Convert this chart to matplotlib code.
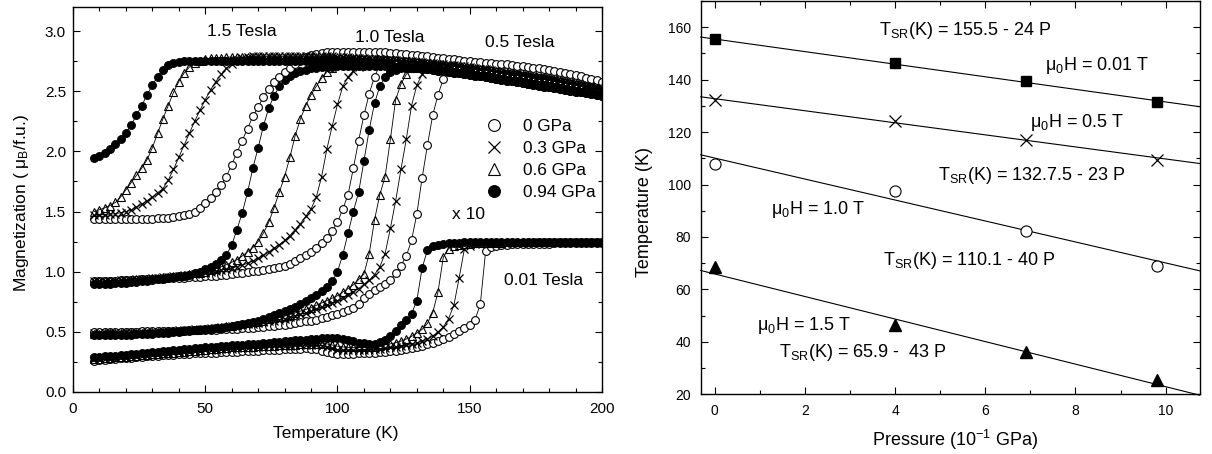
import numpy as np
import matplotlib
matplotlib.use("Agg")
import matplotlib.pyplot as plt
from matplotlib.lines import Line2D
from matplotlib.ticker import MultipleLocator

plt.rcParams['font.family'] = ['Liberation Sans', 'DejaVu Sans']
plt.rcParams['mathtext.fontset'] = 'custom'
plt.rcParams['mathtext.rm'] = 'Liberation Sans'
plt.rcParams['mathtext.it'] = 'Liberation Sans:italic'
plt.rcParams['mathtext.bf'] = 'Liberation Sans:bold'

# ---- left panel: M(T) at four fields and four pressures ----
temps = [8, 10, 12, 14, 16, 18, 20, 22, 24, 26,
         28, 30, 32, 34, 36, 38, 40, 42, 44, 46,
         48, 50, 52, 54, 56, 58, 60, 62, 64, 66,
         68, 70, 72, 74, 76, 78, 80, 82, 84, 86,
         88, 90, 92, 94, 96, 98, 100, 102, 104, 106,
         108, 110, 112, 114, 116, 118, 120, 122, 124, 126,
         128, 130, 132, 134, 136, 138, 140, 142, 144, 146,
         148, 150, 152, 154, 156, 158, 160, 162, 164, 166,
         168, 170, 172, 174, 176, 178, 180, 182, 184, 186,
         188, 190, 192, 194, 196, 198, 200]

pressures_leg = ["0 GPa", "0.3 GPa", "0.6 GPa", "0.94 GPa"]

# common high-temperature tails (122 K .. 200 K)
band_mid = [2.758, 2.755, 2.752, 2.748, 2.745, 2.741, 2.738, 2.734, 2.73, 2.726,
            2.721, 2.716, 2.711, 2.706, 2.70, 2.694, 2.688, 2.681, 2.674, 2.667,
            2.66, 2.652, 2.645, 2.639, 2.633, 2.626, 2.619, 2.612, 2.606, 2.60,
            2.592, 2.584, 2.576, 2.568, 2.56, 2.552, 2.544, 2.536, 2.528, 2.52]
band_fill = [2.703, 2.70, 2.697, 2.694, 2.69, 2.686, 2.681, 2.676, 2.671, 2.666,
             2.66, 2.655, 2.649, 2.643, 2.637, 2.63, 2.623, 2.616, 2.609, 2.602,
             2.595, 2.588, 2.581, 2.574, 2.567, 2.56, 2.553, 2.546, 2.539, 2.532,
             2.525, 2.518, 2.511, 2.504, 2.497, 2.49, 2.483, 2.476, 2.469, 2.462]

# 0.01 Tesla (x 10)
m001_0 = [0.26, 0.264, 0.268, 0.272, 0.276, 0.28, 0.283, 0.286, 0.289, 0.292,
          0.295, 0.298, 0.301, 0.304, 0.307, 0.31, 0.313, 0.316, 0.318, 0.32,
          0.322, 0.324, 0.326, 0.328, 0.33, 0.332, 0.334, 0.336, 0.338, 0.34,
          0.342, 0.344, 0.346, 0.348, 0.35, 0.352, 0.354, 0.356, 0.358, 0.36,
          0.362, 0.36, 0.355, 0.343, 0.33, 0.32, 0.317, 0.317, 0.318, 0.319,
          0.32, 0.322, 0.324, 0.327, 0.33, 0.334, 0.339, 0.344, 0.35, 0.357,
          0.365, 0.374, 0.384, 0.395, 0.408, 0.423, 0.44, 0.46, 0.48, 0.503,
          0.528, 0.555, 0.60, 0.73, 1.17, 1.205, 1.215, 1.222, 1.225, 1.227,
          1.228, 1.23, 1.23, 1.231, 1.232, 1.233, 1.234, 1.235, 1.236, 1.237,
          1.237, 1.238, 1.238, 1.239, 1.239, 1.24, 1.24]
m001_3 = [0.27, 0.273, 0.277, 0.28, 0.283, 0.287, 0.29, 0.294, 0.298, 0.302,
          0.306, 0.31, 0.314, 0.318, 0.322, 0.326, 0.33, 0.333, 0.336, 0.339,
          0.342, 0.345, 0.348, 0.351, 0.354, 0.357, 0.36, 0.363, 0.366, 0.369,
          0.372, 0.375, 0.377, 0.379, 0.381, 0.383, 0.385, 0.386, 0.387, 0.388,
          0.389, 0.39, 0.388, 0.385, 0.378, 0.365, 0.352, 0.348, 0.347, 0.347,
          0.348, 0.35, 0.353, 0.357, 0.361, 0.365, 0.37, 0.376, 0.383, 0.39,
          0.40, 0.41, 0.424, 0.44, 0.465, 0.50, 0.54, 0.61, 0.72, 0.95,
          1.19, 1.215, 1.23, 1.235, 1.237, 1.239, 1.24, 1.24, 1.241, 1.241,
          1.242, 1.242, 1.242, 1.243, 1.243, 1.243, 1.244, 1.244, 1.244, 1.244,
          1.245, 1.245, 1.245, 1.245, 1.245, 1.245, 1.245]
m001_6 = [0.275, 0.278, 0.281, 0.284, 0.287, 0.29, 0.293, 0.297, 0.30, 0.304,
          0.308, 0.312, 0.316, 0.32, 0.324, 0.328, 0.332, 0.336, 0.34, 0.344,
          0.348, 0.352, 0.355, 0.358, 0.362, 0.366, 0.37, 0.372, 0.374, 0.376,
          0.378, 0.38, 0.382, 0.384, 0.386, 0.388, 0.39, 0.392, 0.394, 0.396,
          0.398, 0.40, 0.401, 0.401, 0.40, 0.39, 0.38, 0.374, 0.371, 0.37,
          0.37, 0.37, 0.373, 0.378, 0.384, 0.391, 0.40, 0.41, 0.423, 0.44,
          0.462, 0.49, 0.52, 0.57, 0.66, 0.83, 1.12, 1.19, 1.215, 1.225,
          1.23, 1.233, 1.236, 1.238, 1.24, 1.241, 1.242, 1.242, 1.243, 1.243,
          1.243, 1.244, 1.244, 1.244, 1.244, 1.245, 1.245, 1.245, 1.245, 1.245,
          1.245, 1.245, 1.245, 1.245, 1.245, 1.245, 1.245]
m001_94 = [0.29, 0.293, 0.297, 0.30, 0.303, 0.307, 0.31, 0.314, 0.318, 0.322,
           0.326, 0.33, 0.334, 0.338, 0.342, 0.346, 0.35, 0.354, 0.358, 0.362,
           0.366, 0.37, 0.374, 0.378, 0.382, 0.386, 0.39, 0.392, 0.394, 0.396,
           0.398, 0.40, 0.404, 0.408, 0.412, 0.416, 0.42, 0.424, 0.428, 0.432,
           0.436, 0.44, 0.443, 0.446, 0.448, 0.45, 0.449, 0.444, 0.435, 0.422,
           0.41, 0.404, 0.40, 0.402, 0.412, 0.43, 0.465, 0.51, 0.555, 0.60,
           0.65, 0.76, 1.03, 1.18, 1.21, 1.225, 1.232, 1.236, 1.239, 1.241,
           1.243, 1.245, 1.245, 1.245, 1.245, 1.245, 1.245, 1.245, 1.245, 1.245,
           1.245, 1.245, 1.245, 1.245, 1.245, 1.245, 1.245, 1.245, 1.245, 1.245,
           1.245, 1.245, 1.245, 1.245, 1.245, 1.245, 1.245]

# 0.5 Tesla
m05_0 = [0.50, 0.50, 0.50, 0.50, 0.50, 0.50, 0.50, 0.501, 0.502, 0.503,
         0.504, 0.505, 0.506, 0.507, 0.508, 0.509, 0.51, 0.511, 0.512, 0.513,
         0.514, 0.515, 0.517, 0.519, 0.521, 0.523, 0.525, 0.527, 0.53, 0.532,
         0.535, 0.539, 0.543, 0.547, 0.551, 0.555, 0.56, 0.566, 0.572, 0.579,
         0.586, 0.593, 0.60, 0.612, 0.624, 0.637, 0.65, 0.665, 0.681, 0.70,
         0.735, 0.78, 0.815, 0.845, 0.87, 0.90, 0.93, 0.985, 1.05, 1.13,
         1.26, 1.48, 1.78, 2.05, 2.30, 2.47, 2.60, 2.67, 2.695, 2.71,
         2.715, 2.72, 2.718, 2.716, 2.713, 2.71, 2.705, 2.70, 2.695, 2.69,
         2.685, 2.68, 2.675, 2.67, 2.665, 2.66, 2.65, 2.64, 2.63, 2.62,
         2.61, 2.60, 2.59, 2.58, 2.57, 2.565, 2.56]
m05_3 = [0.49, 0.49, 0.491, 0.492, 0.493, 0.494, 0.495, 0.496, 0.497, 0.498,
         0.499, 0.50, 0.502, 0.504, 0.507, 0.51, 0.512, 0.515, 0.517, 0.52,
         0.522, 0.525, 0.529, 0.533, 0.538, 0.543, 0.548, 0.552, 0.557, 0.562,
         0.566, 0.57, 0.578, 0.586, 0.594, 0.602, 0.61, 0.622, 0.634, 0.646,
         0.658, 0.67, 0.688, 0.706, 0.724, 0.742, 0.76, 0.785, 0.81, 0.835,
         0.86, 0.895, 0.93, 0.975, 1.04, 1.15, 1.36, 1.59, 1.85, 2.10,
         2.38, 2.55, 2.64, 2.685, 2.705, 2.715, 2.72, 2.718, 2.715, 2.71,
         2.705, 2.70, 2.694, 2.688, 2.681, 2.674, 2.667, 2.66, 2.652, 2.645,
         2.639, 2.633, 2.626, 2.619, 2.612, 2.606, 2.60, 2.592, 2.584, 2.576,
         2.568, 2.56, 2.552, 2.544, 2.536, 2.528, 2.52]
m05_6 = [0.485, 0.486, 0.487, 0.488, 0.489, 0.49, 0.49, 0.491, 0.492, 0.493,
         0.494, 0.495, 0.497, 0.50, 0.503, 0.506, 0.509, 0.512, 0.515, 0.518,
         0.521, 0.525, 0.53, 0.535, 0.54, 0.546, 0.552, 0.558, 0.565, 0.572,
         0.578, 0.585, 0.594, 0.603, 0.612, 0.621, 0.63, 0.644, 0.658, 0.672,
         0.686, 0.70, 0.72, 0.74, 0.76, 0.78, 0.80, 0.83, 0.86, 0.89,
         0.935, 0.98, 1.15, 1.43, 1.64, 1.79, 2.10, 2.43, 2.56, 2.64,
         2.69, 2.71, 2.718, 2.722, 2.725, 2.724, 2.723, 2.721, 2.719, 2.716,
         2.713, 2.71, 2.703, 2.696, 2.689, 2.682, 2.676, 2.669, 2.662, 2.655,
         2.649, 2.642, 2.636, 2.629, 2.622, 2.616, 2.61, 2.602, 2.594, 2.586,
         2.578, 2.57, 2.562, 2.554, 2.546, 2.538, 2.53]
m05_94 = [0.47, 0.47, 0.471, 0.472, 0.473, 0.474, 0.475, 0.477, 0.479, 0.481,
          0.483, 0.485, 0.488, 0.491, 0.494, 0.497, 0.50, 0.504, 0.508, 0.512,
          0.516, 0.52, 0.525, 0.53, 0.535, 0.54, 0.545, 0.553, 0.562, 0.571,
          0.58, 0.594, 0.609, 0.624, 0.639, 0.654, 0.67, 0.69, 0.71, 0.73,
          0.755, 0.78, 0.81, 0.84, 0.87, 0.92, 1.0, 1.14, 1.32, 1.50,
          1.66, 1.92, 2.18, 2.40, 2.54, 2.62, 2.66, 2.68, 2.69, 2.692,
          2.692, 2.691, 2.69, 2.686, 2.681, 2.675, 2.669, 2.663, 2.657, 2.651,
          2.645, 2.64, 2.633, 2.626, 2.619, 2.612, 2.605, 2.598, 2.591, 2.585,
          2.578, 2.571, 2.564, 2.557, 2.55, 2.543, 2.536, 2.53, 2.523, 2.517,
          2.51, 2.503, 2.497, 2.49, 2.483, 2.477, 2.47]

# 1.0 Tesla
m10_0 = [0.92, 0.921, 0.922, 0.924, 0.925, 0.927, 0.929, 0.931, 0.933, 0.935,
         0.937, 0.939, 0.941, 0.943, 0.945, 0.947, 0.949, 0.951, 0.953, 0.956,
         0.959, 0.962, 0.965, 0.968, 0.972, 0.976, 0.98, 0.985, 0.99, 0.996,
         1.002, 1.009, 1.016, 1.024, 1.032, 1.041, 1.05, 1.065, 1.085, 1.11,
         1.135, 1.165, 1.20, 1.24, 1.28, 1.34, 1.41, 1.52, 1.64, 1.86,
         2.09, 2.30, 2.48, 2.62, 2.72, 2.755, 2.765, 2.77, 2.77, 2.769,
         2.768, 2.767, 2.765, 2.762, 2.758, 2.754, 2.75, 2.745, 2.74, 2.735,
         2.73, 2.726, 2.722, 2.718, 2.714, 2.71, 2.706, 2.702, 2.698, 2.694,
         2.69, 2.686, 2.682, 2.678, 2.673, 2.668, 2.662, 2.655, 2.647, 2.638,
         2.629, 2.62, 2.61, 2.60, 2.59, 2.58, 2.57]
m10_3 = [0.92, 0.921, 0.922, 0.924, 0.926, 0.928, 0.93, 0.933, 0.936, 0.939,
         0.942, 0.945, 0.949, 0.953, 0.957, 0.961, 0.965, 0.97, 0.975, 0.98,
         0.985, 0.99, 0.998, 1.006, 1.014, 1.022, 1.03, 1.042, 1.055, 1.07,
         1.09, 1.11, 1.135, 1.165, 1.195, 1.225, 1.26, 1.30, 1.35, 1.40,
         1.46, 1.52, 1.62, 1.79, 2.02, 2.21, 2.39, 2.54, 2.62, 2.67,
         2.70, 2.72, 2.735, 2.745, 2.752, 2.757, 2.76] + band_mid
m10_6 = [0.92, 0.921, 0.922, 0.924, 0.926, 0.928, 0.93, 0.933, 0.936, 0.939,
         0.942, 0.945, 0.949, 0.953, 0.957, 0.961, 0.965, 0.971, 0.978, 0.985,
         0.992, 1.0, 1.012, 1.025, 1.04, 1.058, 1.078, 1.10, 1.13, 1.165,
         1.20, 1.25, 1.32, 1.41, 1.53, 1.66, 1.79, 1.95, 2.13, 2.27,
         2.38, 2.47, 2.54, 2.61, 2.66, 2.695, 2.72, 2.735, 2.745, 2.75,
         2.755, 2.758, 2.76, 2.761, 2.761, 2.76, 2.76] + band_mid
m10_94 = [0.895, 0.897, 0.899, 0.901, 0.904, 0.907, 0.91, 0.914, 0.918, 0.922,
          0.926, 0.93, 0.935, 0.941, 0.947, 0.953, 0.96, 0.968, 0.976, 0.986,
          1.0, 1.02, 1.04, 1.065, 1.095, 1.14, 1.22, 1.35, 1.49, 1.66,
          1.86, 2.03, 2.21, 2.36, 2.46, 2.54, 2.59, 2.63, 2.65, 2.67,
          2.68, 2.69, 2.695, 2.70, 2.703, 2.705, 2.707, 2.708, 2.709, 2.71,
          2.71, 2.71, 2.71, 2.71, 2.71, 2.708, 2.706] + band_fill

# 1.5 Tesla
m15_0 = [1.44, 1.438, 1.437, 1.436, 1.435, 1.435, 1.435, 1.436, 1.437, 1.438,
         1.439, 1.44, 1.442, 1.445, 1.449, 1.454, 1.46, 1.468, 1.48, 1.50,
         1.53, 1.57, 1.61, 1.66, 1.72, 1.79, 1.89, 1.99, 2.09, 2.19,
         2.29, 2.37, 2.45, 2.52, 2.575, 2.62, 2.66, 2.695, 2.73, 2.76,
         2.785, 2.80, 2.812, 2.82, 2.825, 2.828, 2.83, 2.83, 2.83, 2.83,
         2.83, 2.83, 2.83, 2.828, 2.826, 2.823, 2.82, 2.817, 2.813, 2.809,
         2.804, 2.799, 2.794, 2.79, 2.785, 2.78, 2.775, 2.77, 2.765, 2.76,
         2.755, 2.75, 2.746, 2.742, 2.738, 2.734, 2.73, 2.726, 2.722, 2.718,
         2.713, 2.708, 2.702, 2.696, 2.69, 2.685, 2.68, 2.672, 2.663, 2.653,
         2.643, 2.633, 2.623, 2.613, 2.602, 2.591, 2.58]
m15_3 = [1.47, 1.472, 1.475, 1.478, 1.482, 1.49, 1.50, 1.515, 1.535, 1.56,
         1.59, 1.62, 1.655, 1.69, 1.76, 1.85, 1.95, 2.05, 2.15, 2.25,
         2.34, 2.43, 2.51, 2.58, 2.64, 2.69, 2.73, 2.76, 2.775, 2.785,
         2.79, 2.792, 2.792, 2.792, 2.792, 2.792, 2.792, 2.792, 2.792, 2.792,
         2.792, 2.792, 2.792, 2.792, 2.792, 2.79, 2.788, 2.785, 2.782, 2.779,
         2.776, 2.773, 2.77, 2.767, 2.764, 2.761, 2.759] + band_mid
m15_6 = [1.50, 1.515, 1.53, 1.55, 1.575, 1.62, 1.68, 1.74, 1.80, 1.86,
         1.93, 2.03, 2.15, 2.27, 2.38, 2.49, 2.58, 2.65, 2.70, 2.735,
         2.755, 2.765, 2.772, 2.777, 2.78, 2.782, 2.784, 2.785, 2.785, 2.785,
         2.785, 2.785, 2.785, 2.785, 2.785, 2.785, 2.785, 2.785, 2.785, 2.785,
         2.785, 2.785, 2.785, 2.785, 2.785, 2.784, 2.783, 2.781, 2.779, 2.777,
         2.774, 2.771, 2.768, 2.765, 2.762, 2.76, 2.759] + band_mid
m15_94 = [1.945, 1.965, 1.99, 2.02, 2.06, 2.10, 2.15, 2.22, 2.30, 2.38,
          2.47, 2.55, 2.62, 2.68, 2.715, 2.735, 2.745, 2.75, 2.752, 2.753,
          2.754, 2.755, 2.755, 2.755, 2.755, 2.755, 2.755, 2.755, 2.755, 2.755,
          2.755, 2.755, 2.755, 2.755, 2.755, 2.755, 2.755, 2.755, 2.755, 2.755,
          2.755, 2.755, 2.755, 2.755, 2.755, 2.755, 2.755, 2.754, 2.752, 2.75,
          2.747, 2.744, 2.74, 2.735, 2.728, 2.72, 2.712] + band_fill

curves = [
    [m001_0, m001_3, m001_6, m001_94],
    [m05_0, m05_3, m05_6, m05_94],
    [m10_0, m10_3, m10_6, m10_94],
    [m15_0, m15_3, m15_6, m15_94],
]

# ---- right panel: transition temperature vs pressure ----
pressure = [0, 4, 6.9, 9.8]
tsr_001 = [155.4, 146.2, 139.5, 131.6]
tsr_05 = [132.4, 124.3, 116.9, 109.5]
tsr_10 = [108.0, 97.5, 82.4, 69.1]
tsr_15 = [68.4, 46.6, 36.2, 25.6]
fit_intercept = [155.5, 132.75, 110.1, 65.9]
fit_slope = [-2.4, -2.3, -4.0, -4.3]

styles = [
    dict(marker='o', mfc='white', mec='black', ms=5.6, mew=0.8),
    dict(marker='x', mec='black', ms=6.0, mew=0.9),
    dict(marker='^', mfc='none', mec='black', ms=6.0, mew=0.8),
    dict(marker='o', mfc='black', mec='black', ms=5.6, mew=0.8),
]

fig = plt.figure(figsize=(12.12, 4.54), dpi=100)
ax1 = fig.add_axes([0.0602, 0.1366, 0.4365, 0.848])
ax2 = fig.add_axes([0.5781, 0.1315, 0.4116, 0.8663])

for field_curves in curves:
    for vals, st in zip(field_curves, styles):
        ax1.plot(temps, vals, color='black', lw=0.6, **st)

ax1.set_xlim(0, 200)
ax1.set_ylim(0, 3.2)
ax1.xaxis.set_major_locator(MultipleLocator(50))
ax1.xaxis.set_minor_locator(MultipleLocator(10))
ax1.yaxis.set_major_locator(MultipleLocator(0.5))
ax1.yaxis.set_minor_locator(MultipleLocator(0.25))
ax1.tick_params(labelsize=11)
ax1.tick_params(axis='x', pad=7)
ax1.tick_params(axis='y', pad=5)
ax1.set_xlabel('Temperature (K)', fontsize=12.5, va='center')
ax1.xaxis.set_label_coords(0.496, -0.107)
ax1.set_ylabel('Magnetization ( μ$_{\\mathrm{B}}$/f.u.)', fontsize=12.5, va='center')
ax1.yaxis.set_label_coords(-0.097, 0.49)

ax1.text(50.5, 2.958, '1.5 Tesla', fontsize=12.5)
ax1.text(106.6, 2.908, '1.0 Tesla', fontsize=12.5)
ax1.text(155.8, 2.868, '0.5 Tesla', fontsize=12.5)
ax1.text(143.2, 1.438, 'x 10', fontsize=12.5)
ax1.text(163.0, 0.888, '0.01 Tesla', fontsize=12.5)

handles = [Line2D([], [], ls='none', **dict(st, ms=8.5)) for st in styles]
ax1.legend(handles, pressures_leg, loc='upper left', bbox_to_anchor=(0.776, 0.709),
           frameon=False, fontsize=12.4, handlelength=1.2, handletextpad=1.1,
           labelspacing=0.4, borderpad=0, borderaxespad=0)

# right panel
marks = [('s', tsr_001, dict(mfc='black', ms=7.5)),
         ('x', tsr_05, dict(ms=9, mew=0.9)),
         ('o', tsr_10, dict(mfc='white', ms=8, mew=0.8)),
         ('^', tsr_15, dict(mfc='black', ms=8.5))]
for mk, vals, kw in marks:
    ax2.plot(pressure, vals, ls='none', marker=mk, color='black', mec='black', **kw)

p_line = np.array([-0.31, 10.75])
for a, b in zip(fit_intercept, fit_slope):
    ax2.plot(p_line, a + b * p_line, color='black', lw=0.8, clip_on=False, zorder=1)

ax2.set_xlim(-0.31, 10.75)
ax2.set_ylim(20, 170)
ax2.xaxis.set_major_locator(MultipleLocator(2))
ax2.xaxis.set_minor_locator(MultipleLocator(1))
ax2.yaxis.set_major_locator(MultipleLocator(20))
ax2.yaxis.set_minor_locator(MultipleLocator(10))
ax2.tick_params(labelsize=10)
ax2.tick_params(axis='x', pad=7)
ax2.tick_params(axis='y', pad=7)
ax2.set_xlabel('Pressure (10$^{\\mathrm{-1}}$ GPa)', fontsize=13, va='center')
ax2.xaxis.set_label_coords(0.51, -0.116)
ax2.set_ylabel('Temperature (K)', fontsize=13, va='center')
ax2.yaxis.set_label_coords(-0.1125, 0.464)

fs = 13
ax2.text(3.65, 157.1, 'T$_{\\mathrm{SR}}$(K) = 155.5 - 24 P', fontsize=fs)
ax2.text(7.33, 143.5, 'μ$_{0}$H = 0.01 T', fontsize=fs)
ax2.text(6.99, 122.1, 'μ$_{0}$H = 0.5 T', fontsize=fs)
ax2.text(4.95, 101.7, 'T$_{\\mathrm{SR}}$(K) = 132.7.5 - 23 P', fontsize=fs)
ax2.text(1.25, 88.9, 'μ$_{0}$H = 1.0 T', fontsize=fs)
ax2.text(3.73, 69.2, 'T$_{\\mathrm{SR}}$(K) = 110.1 - 40 P', fontsize=fs)
ax2.text(0.95, 44.5, 'μ$_{0}$H = 1.5 T', fontsize=fs)
ax2.text(1.43, 34.2, 'T$_{\\mathrm{SR}}$(K) = 65.9 -  43 P', fontsize=fs)

for ax in (ax1, ax2):
    ax.tick_params(which='both', direction='in', top=True, right=True, width=0.8)
    ax.tick_params(which='major', length=5)
    ax.tick_params(which='minor', length=3)
    for sp in ax.spines.values():
        sp.set_linewidth(1.0)

fig.savefig('out.png', dpi=100)
